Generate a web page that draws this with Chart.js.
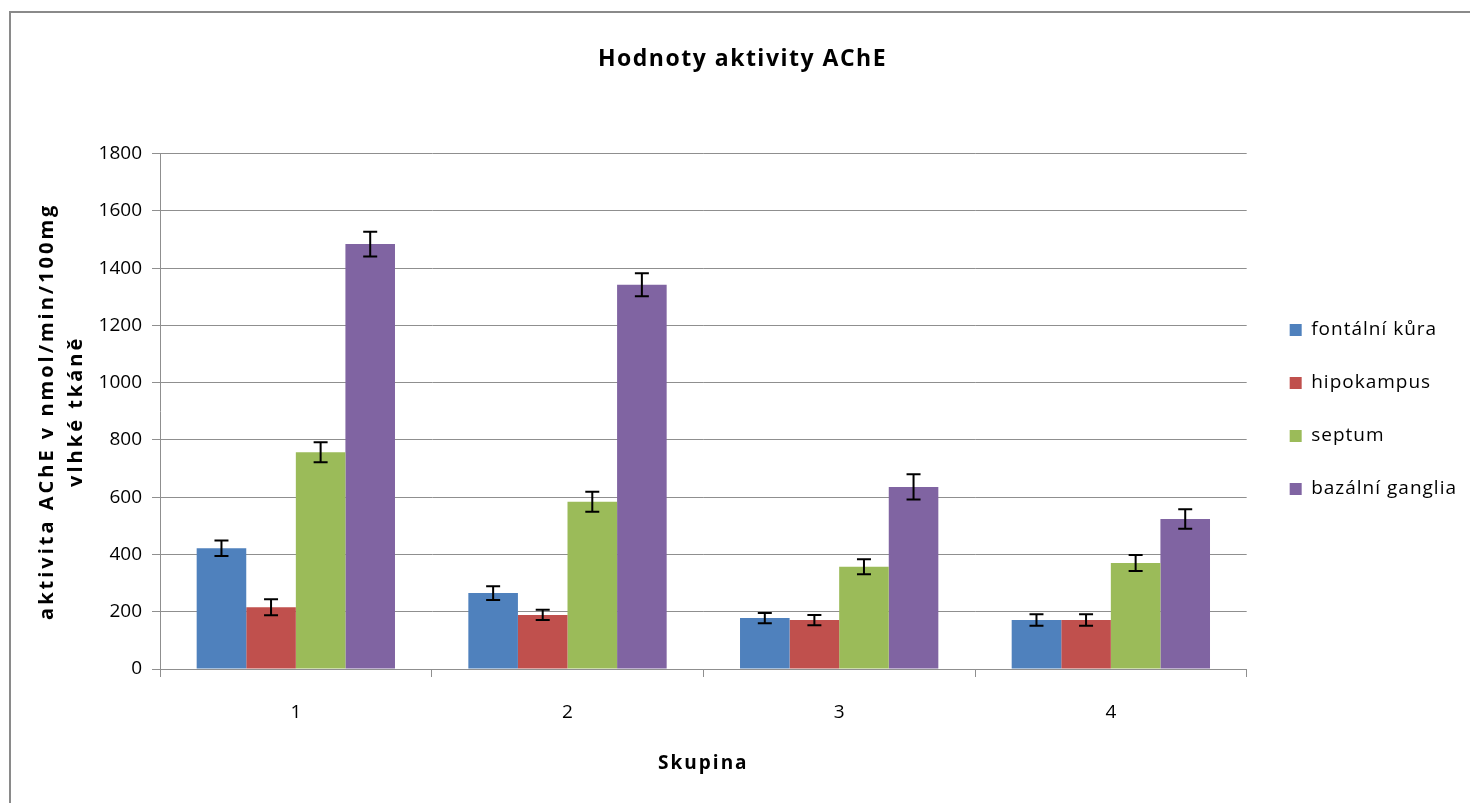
<!DOCTYPE html>
<html>
<head>
<meta charset="utf-8">
<script src="https://cdn.jsdelivr.net/npm/chart.js@4/dist/chart.umd.min.js"></script>
<style>
    html, body { margin: 0; padding: 0; background: #fff; overflow: hidden; }
    #frame { position: absolute; left: 9px; top: 11px; width: 1500px; height: 900px;
             border-left: 2px solid #8a8a8a; border-top: 2px solid #8a8a8a; }
    #wrap { position: absolute; left: 0; top: 0; width: 1470px; height: 803px; }
</style>
</head>
<body>
<div id="frame"></div>
<div id="wrap"><canvas id="acheChart" width="1470" height="803"></canvas></div>
<script>
const skupiny = ['1', '2', '3', '4'];
const fontalniKura = [422, 265, 178, 171];
const hipokampus = [216, 189, 171, 171];
const septum = [757, 584, 357, 370];
const bazalniGanglia = [1484, 1342, 636, 524];
const chybyKura = [27, 24, 18, 20];
const chybyHipokampus = [28, 18, 18, 20];
const chybySeptum = [35, 35, 26, 28];
const chybyGanglia = [43, 40, 44, 34];
const yTicks = [0, 200, 400, 600, 800, 1000, 1200, 1400, 1600, 1800];

const FONT = "'Open Sans', 'DejaVu Sans', sans-serif";

// chybove useky (error bars) pres osu y
const errorBars = {
    id: 'errorBars',
    afterDatasetsDraw(chart) {
        const ctx = chart.ctx;
        const y = chart.scales.y;
        chart.data.datasets.forEach((ds, i) => {
            const meta = chart.getDatasetMeta(i);
            meta.data.forEach((bar, j) => {
                const v = ds.data[j], e = ds.errors[j];
                const top = y.getPixelForValue(v + e);
                const bot = y.getPixelForValue(v - e);
                ctx.save();
                ctx.strokeStyle = '#000';
                ctx.lineWidth = 2;
                ctx.beginPath();
                ctx.moveTo(bar.x, top); ctx.lineTo(bar.x, bot);
                ctx.moveTo(bar.x - 7, top); ctx.lineTo(bar.x + 7, top);
                ctx.moveTo(bar.x - 7, bot); ctx.lineTo(bar.x + 7, bot);
                ctx.stroke();
                ctx.restore();
            });
        });
    }
};

// roztazene pismo jako v Excelu
function spaced(obj, method, spacing) {
    const orig = obj[method];
    obj[method] = function(...args) {
        const c = this.ctx;
        const prev = c.letterSpacing;
        c.letterSpacing = spacing;
        orig.apply(this, args);
        c.letterSpacing = prev;
    };
}

const excelLook = {
    id: 'excelLook',
    afterLayout(chart) {
        // posun legendy a nadpisu
        const lg = chart.legend;
        lg.left += 9;
        lg.right = chart.width;
        lg.top += 8; lg.bottom += 8;
        const tb = chart.titleBlock;
        tb.left += 21; tb.right += 21;
    },
    beforeDraw(chart) {
        if (chart.$spaced) return;
        chart.$spaced = true;
        spaced(chart.scales.y, 'drawTitle', '3px');
        spaced(chart.scales.x, 'drawTitle', '2px');
        spaced(chart.legend, 'draw', '1px');
        spaced(chart.titleBlock, 'draw', '1.5px');
    }
};

const ctx = document.getElementById('acheChart').getContext('2d');
new Chart(ctx, {
    type: 'bar',
    data: {
        labels: skupiny,
        datasets: [
            { label: 'fontální kůra', data: fontalniKura, errors: chybyKura, backgroundColor: '#4F81BD' },
            { label: 'hipokampus', data: hipokampus, errors: chybyHipokampus, backgroundColor: '#C0504D' },
            { label: 'septum', data: septum, errors: chybySeptum, backgroundColor: '#9BBB59' },
            { label: 'bazální ganglia', data: bazalniGanglia, errors: chybyGanglia, backgroundColor: '#8064A2' }
        ]
    },
    options: {
        responsive: false,
        animation: false,
        layout: { padding: { left: 0, right: 27, top: 0, bottom: 0 } },
        categoryPercentage: 0.73,
        barPercentage: 1.0,
        scales: {
            x: {
                grid: { offset: true, drawOnChartArea: false, tickLength: 8, color: '#8f8f8f' },
                border: { color: '#8f8f8f' },
                ticks: { color: '#000', font: { family: FONT, size: 19 }, padding: 24 },
                title: {
                    display: true, text: 'Skupina', color: '#000',
                    font: { family: FONT, size: 19, weight: 'bold' },
                    padding: { top: 0, bottom: 28 }
                },
                afterFit(scale) { scale.height = 134; }
            },
            y: {
                min: 0, max: 1800,
                afterBuildTicks(scale) { scale.ticks = yTicks.map(v => ({ value: v })); },
                grid: { color: '#8f8f8f', tickLength: 8 },
                border: { color: '#8f8f8f' },
                ticks: { color: '#000', font: { family: FONT, size: 19 }, padding: 10,
                         callback: v => String(v) },
                title: {
                    display: true,
                    text: ['aktivita AChE v nmol/min/100mg', 'vlhké tkáně'],
                    color: '#000',
                    font: { family: FONT, size: 20, weight: 'bold', lineHeight: 1.45 },
                    padding: { top: 33, bottom: 0 }
                },
                afterFit(scale) { scale.width = 160; }
            }
        },
        plugins: {
            title: {
                display: true,
                text: 'Hodnoty aktivity AChE',
                color: '#000',
                font: { family: FONT, size: 23, weight: 'bold' },
                padding: { top: 46, bottom: 80 }
            },
            legend: {
                position: 'right',
                labels: {
                    color: '#000',
                    font: { family: FONT, size: 19 },
                    boxWidth: 12, boxHeight: 12,
                    padding: 34
                }
            },
            tooltip: { enabled: false }
        }
    },
    plugins: [errorBars, excelLook]
});
</script>
</body>
</html>
